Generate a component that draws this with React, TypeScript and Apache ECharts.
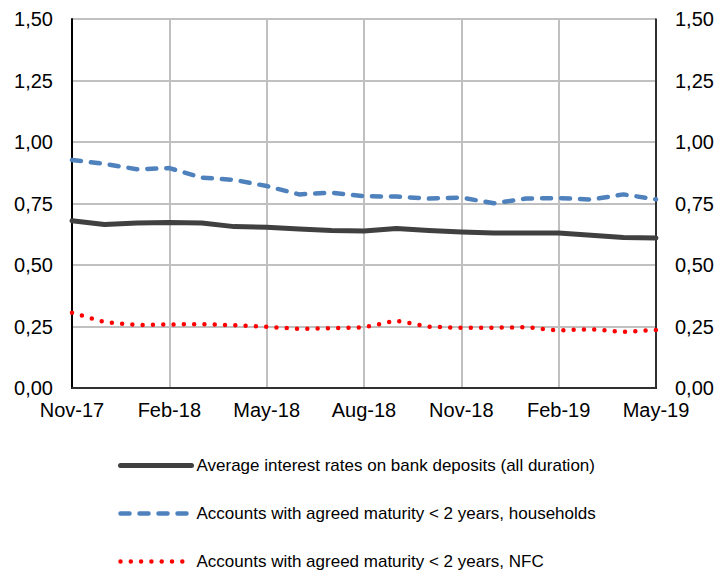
import React, { useEffect, useRef } from "react";
import * as echarts from "echarts";

const months = [
  "Nov-17", "Dec-17", "Jan-18", "Feb-18", "Mar-18", "Apr-18", "May-18", "Jun-18", "Jul-18", "Aug-18",
  "Sep-18", "Oct-18", "Nov-18", "Dec-18", "Jan-19", "Feb-19", "Mar-19", "Apr-19", "May-19",
];

const averageRates = [
  0.68, 0.665, 0.671, 0.673, 0.671, 0.656, 0.653, 0.646, 0.64, 0.638,
  0.648, 0.64, 0.634, 0.63, 0.63, 0.63, 0.621, 0.612, 0.61,
];

const householdRates = [
  0.927, 0.911, 0.889, 0.894, 0.855, 0.846, 0.821, 0.787, 0.794, 0.78,
  0.778, 0.77, 0.774, 0.751, 0.77, 0.772, 0.766, 0.787, 0.767,
];

const nfcRates = [
  0.306, 0.268, 0.256, 0.258, 0.26, 0.255, 0.249, 0.24, 0.243, 0.247,
  0.274, 0.249, 0.245, 0.245, 0.247, 0.234, 0.239, 0.228, 0.236,
];

const seriesNames = [
  "Average interest rates on bank deposits (all duration)",
  "Accounts with agreed maturity < 2 years, households",
  "Accounts with agreed maturity < 2 years, NFC",
];

const FONT = "'Liberation Sans', Arial, sans-serif";

export default function App() {
  const ref = useRef<HTMLDivElement>(null);
  useEffect(() => {
    if (!ref.current) return;
    const chart = echarts.init(ref.current, null, { renderer: "svg" });
    const fmt = (v: number) => v.toFixed(2).replace(".", ",");
    const yCommon = {
      type: "value" as const,
      min: 0,
      max: 1.5,
      interval: 0.25,
      axisLine: { show: true, lineStyle: { color: "#000", width: 2 } },
      axisTick: { show: false },
    };
    const styles = [
      { color: "#404040", width: 5, type: "solid" as any },
      { color: "#4f81bd", width: 4.5, type: [9, 10] },
      { color: "#ff0000", width: 4.5, type: [0, 10.3] },
    ];
    chart.setOption({
      animation: false,
      backgroundColor: "#fff",
      textStyle: { fontFamily: FONT },
      grid: { left: 72, right: 62, top: 19, bottom: 186, containLabel: false },
      legend: {
        orient: "vertical",
        left: 118,
        top: 457,
        padding: 0,
        itemWidth: 71,
        itemHeight: 14,
        itemGap: 31,
        textStyle: { fontFamily: FONT, fontSize: 17, color: "#000" },
        data: seriesNames.map((n, i) => ({
          name: n,
          itemStyle: { opacity: 0 },
          lineStyle: { width: styles[i].width, color: styles[i].color, type: styles[i].type, cap: "round" },
        })),
      },
      xAxis: [
        {
          type: "category",
          data: months,
          boundaryGap: false,
          axisLine: { show: true, lineStyle: { color: "#000", width: 2 } },
          axisTick: { show: false },
          axisLabel: {
            interval: 2,
            color: "#000",
            fontSize: 20,
            fontFamily: FONT,
            margin: 12,
          },
          splitLine: { show: true, interval: 2, lineStyle: { color: "#c0c0c0", width: 2 } },
        },
        {
          type: "category",
          data: months,
          position: "top",
          boundaryGap: false,
          axisLine: { show: true, lineStyle: { color: "#404040", width: 1.5 } },
          axisTick: { show: false },
          axisLabel: { show: false },
          splitLine: { show: false },
        },
      ],
      yAxis: [
        {
          ...yCommon,
          position: "left",
          axisLabel: { color: "#000", fontSize: 20, fontFamily: FONT, margin: 19, formatter: fmt },
          splitLine: { show: true, lineStyle: { color: "#c0c0c0", width: 2 } },
        },
        {
          ...yCommon,
          position: "right",
          axisLine: { show: true, lineStyle: { color: "#000", width: 1.5 } },
          axisLabel: { color: "#000", fontSize: 20, fontFamily: FONT, margin: 19, formatter: fmt },
          splitLine: { show: false },
        },
      ],
      series: [
        { data: averageRates },
        { data: householdRates },
        { data: nfcRates },
      ].map((s, i) => ({
        name: seriesNames[i],
        type: "line",
        data: s.data,
        symbol: "none",
        z: 3,
        lineStyle: { ...styles[i], cap: "round", join: "round" },
        itemStyle: { color: styles[i].color },
      })),
    });
    return () => chart.dispose();
  }, []);
  return (
    <div
      ref={ref}
      style={{ position: "fixed", left: 0, top: 0, width: 718, height: 574, background: "#fff" }}
    />
  );
}
